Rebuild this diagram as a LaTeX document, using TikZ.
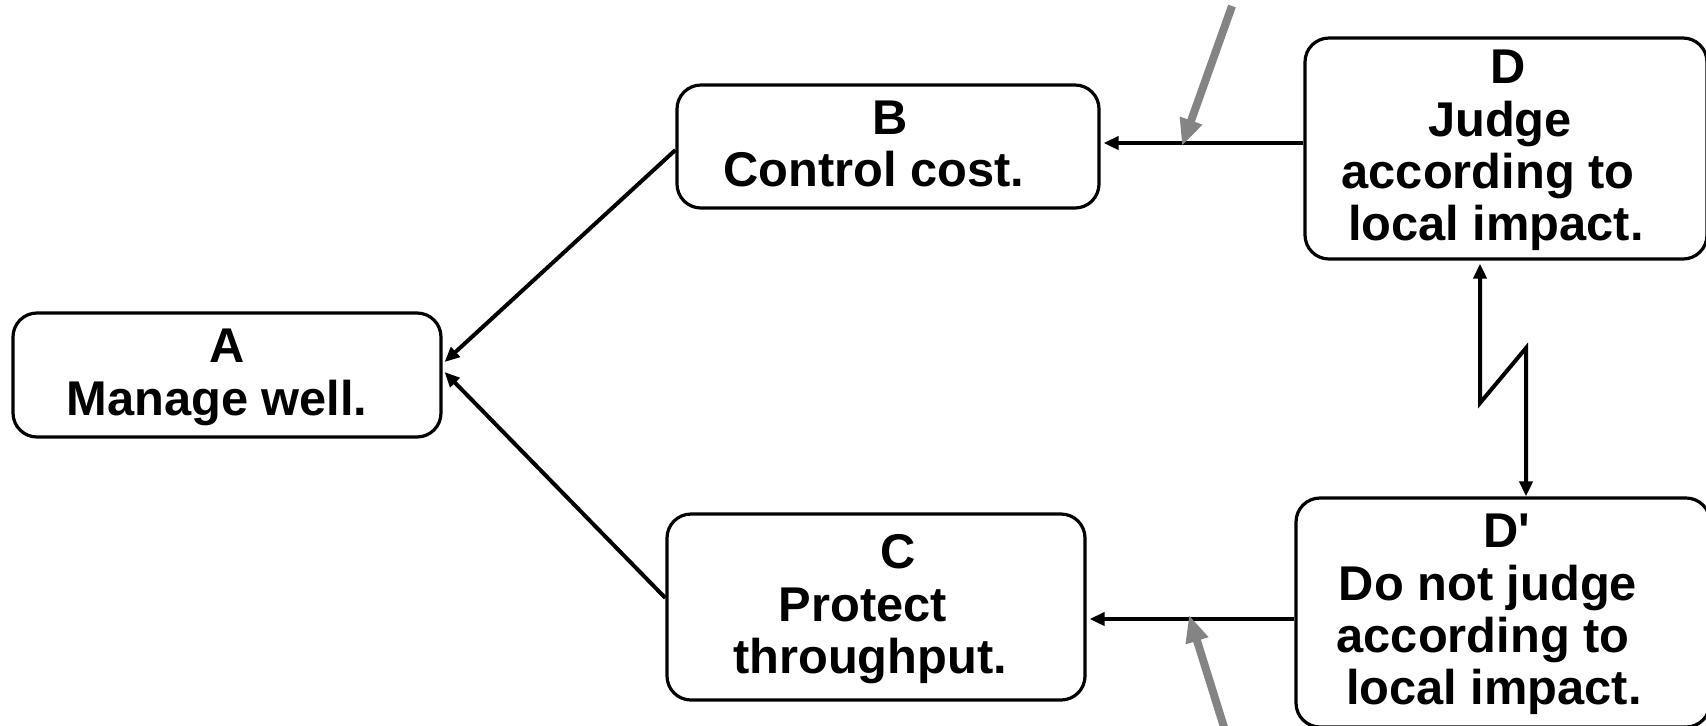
\documentclass[tikz,border=0pt]{standalone}
\usepackage{fontspec}
\setmainfont{Liberation Sans}
\usetikzlibrary{arrows.meta,calc}
% shift a centred line right / left by #1 units of the drawing grid
\newcommand\shr[2]{\mbox{\hspace*{#1pt}#2}}
\newcommand\shl[2]{\mbox{#2\hspace*{#1pt}}}
% last line of a box: keep its baseline, give it a fixed small depth
\newcommand\lastln[1]{\raisebox{0pt}[\height][3pt]{#1}}
\definecolor{hintgray}{RGB}{132,132,132}
\begin{document}
\begin{tikzpicture}[x=0.5pt,y=-0.5pt,
  box/.style={draw=black, line width=1.6pt, rounded corners=12pt,
    align=center, inner sep=0pt,
    font=\fontsize{24.4}{26.2}\selectfont\bfseries},
  link/.style={draw=black, line width=2pt,
    -{Triangle[length=7.5pt,width=6.5pt]}},
  biglink/.style={draw=black, line width=2pt,
    {Triangle[length=7.5pt,width=6.5pt]}-{Triangle[length=7.5pt,width=6.5pt]}},
  hint/.style={draw=hintgray, line width=4pt,
    -{Triangle[length=13.5pt,width=11pt]}}]
\useasboundingbox (0,0) rectangle (1706,725);
\clip (0,0) rectangle (1706,725);

% goal, requirements and prerequisites
\node[box, minimum width=214pt, minimum height=62pt] (A) at (227,375)
  {A\\ \lastln{\shl{10}{Manage well.}}};
\node[box, minimum width=211pt, minimum height=61.5pt] (B) at (888,146.5)
  {\shr{2}{B}\\ \lastln{\shl{14}{Control cost.}}};
\node[box, minimum width=209pt, minimum height=93pt] (C) at (876,607)
  {\shr{22}{C}\\ \shl{13}{Protect}\\ \lastln{\shl{6}{throughput.}}};
\node[box, minimum width=201pt, minimum height=110.5pt] (D) at (1506,148.5)
  {\shr{2}{D}\\ \shl{6}{Judge}\\ \shl{18}{according to}\\ \lastln{\shl{10}{local impact.}}};
\node[box, minimum width=207pt, minimum height=114.5pt] (Dp) at (1503,612.5)
  {\shr{4}{D\textquotesingle}\\ \shl{15}{Do not judge}\\ \shl{20}{according to}\\ \lastln{\shl{9}{local impact.}}};

% arrow end points just outside the boxes
\coordinate (Ain1) at ($(A.east)+(2,-13)$);
\coordinate (Ain2) at ($(A.east)+(2,-3)$);
\coordinate (Bin) at ($(B.east)+(3,0)$);
\coordinate (Cin) at ($(C.east)+(3,0)$);

% necessity arrows
\draw[link] (B.west |- 0,150) -- (Ain1);
\draw[link] (C.west |- 0,598) -- (Ain2);
\draw[link] (D.west |- 0,143) -- (Bin |- 0,143);
\draw[link] (Dp.west |- 0,619) -- (Cin |- 0,619);

% conflict arrow between D and D'
\coordinate (zl) at (1480,403);
\coordinate (zr) at (1526,348);
\coordinate (zt) at ($(D.south)+(0,3)$);
\draw[biglink] (zl |- zt) -- (zl) -- (zr) -- (zr |- Dp.north);

% assumption pointers
\coordinate (h1tail) at (1232,6);
\coordinate (h1tip) at (1182,146);
\coordinate (h2tail) at (1228,740);
\coordinate (h2tip) at (1189,615);
\draw[hint] (h1tail) -- (h1tip);
\draw[hint] (h2tail) -- (h2tip);
\end{tikzpicture}
\end{document}
